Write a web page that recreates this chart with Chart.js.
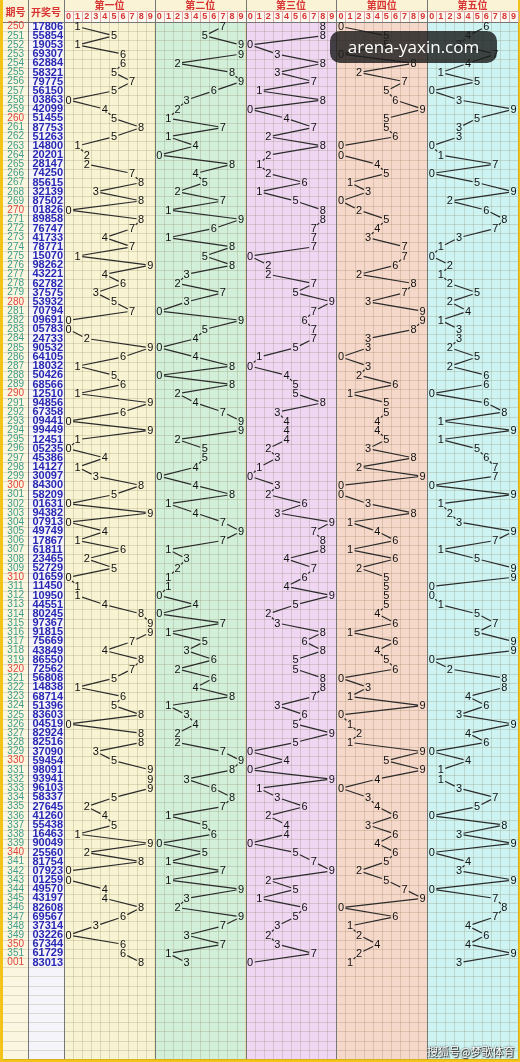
<!DOCTYPE html>
<html>
<head>
<meta charset="utf-8">
<script src="https://cdn.jsdelivr.net/npm/chart.js@4.4.1/dist/chart.umd.min.js"></script>
<style>
  html, body { margin: 0; padding: 0; background: #f2c419; }
  #wrap { position: relative; width: 520px; height: 1062px; }
  #mark {
    position: absolute; left: 330px; top: 31px; width: 167px; height: 32px;
    border-radius: 10px; background: rgba(28, 28, 28, 0.82); color: #fff;
    font: 17px "Open Sans", "DejaVu Sans", sans-serif; line-height: 32px; text-align: center;
  }
  #src {
    position: absolute; left: 427px; top: 1043px; color: #fff;
    font: 11px "Noto Sans CJK SC", sans-serif;
    text-shadow: 0 0 2px #222, 1px 1px 1px #222;
  }
</style>
</head>
<body>
<div id="wrap">
  <canvas id="trend"></canvas>
  <div id="mark">arena-yaxin.com</div>
  <div id="src">搜狐号@梦歌体育</div>
</div>
<script>
// issue numbers (期号) and draw results (开奖号)
const issues = [
  '250','251','252','253','254','255','256','257','258','259',
  '260','261','262','263','264','265','266','267','268','269',
  '270','271','272','273','274','275','276','277','278','279',
  '280','281','282','283','284','285','286','287','288','289',
  '290','291','292','293','294','295','296','297','298','299',
  '300','301','302','303','304','305','306','307','308','309',
  '310','311','312','313','314','315','316','317','318','319',
  '320','321','322','323','324','325','326','327','328','329',
  '330','331','332','333','334','335','336','337','338','339',
  '340','341','342','343','344','345','346','347','348','349',
  '350','351','001'
];
const draws = [
  '17806','55854','19053','69307','62884','58321','79775','56150','03863','42099',
  '51455','87753','51263','14800','20201','28147','74250','85615','32139','87502',
  '01826','89858','76747','41733','78771','15070','98262','43221','62782','37575',
  '53932','70794','09691','05783','24733','90532','64105','18032','50426','68566',
  '12510','94856','67358','09441','99449','12451','05235','45386','14127','30097',
  '84300','58209','01631','94382','07913','49749','17867','61811','23465','52729',
  '01659','11450','10950','44551','80245','97367','91815','75669','43849','86550',
  '72562','56808','14838','68714','51396','83603','04519','82924','82516','37090',
  '59454','98091','93941','96103','58337','27645','41260','55438','16463','90049',
  '25560','81754','07923','01259','49570','43197','82608','69567','37314','03226',
  '67344','61729','83013'
];
const digitLabels = ['0','1','2','3','4','5','6','7','8','9'];
const panelTitles = ['第一位','第二位','第三位','第四位','第五位'];
const cornerTitles = ['期号','开奖号'];

// layout / style
const blankRows = 10;
const totalRows = issues.length + blankRows;
const panelColors = ['#f7f3d3', '#d2efda', '#efd7f3', '#f6d8ca', '#cef3f3'];
const red = '#d83434';

const trendPlugin = {
  id: 'trend',
  beforeDraw(chart) {
    const { ctx, chartArea: a, scales } = chart;
    const x = scales.x, y = scales.y, yi = scales.yIssue;
    const cell = (k) => x.getPixelForValue(k - 0.5);
    const rowEdge = (r) => y.getPixelForValue(r - 0.5);
    ctx.save();
    // header
    ctx.fillStyle = '#fbf3d5';
    ctx.fillRect(yi.left, 0, a.right - yi.left, a.top);
    ctx.fillStyle = '#fdf9ef';
    ctx.fillRect(a.left, x.top, a.right - a.left, x.bottom - x.top);
    // left columns
    ctx.fillStyle = '#fbf6df';
    ctx.fillRect(yi.left, a.top, yi.right - yi.left, a.bottom - a.top);
    ctx.fillStyle = '#f6f4fb';
    ctx.fillRect(y.left, a.top, y.right - y.left, a.bottom - a.top);
    // panels
    panelColors.forEach((c, p) => {
      const x0 = cell(p * 10), x1 = cell(p * 10 + 10);
      ctx.fillStyle = c;
      ctx.fillRect(x0, a.top, x1 - x0, a.bottom - a.top);
    });
    // grid
    ctx.lineWidth = 1;
    ctx.strokeStyle = 'rgba(110, 95, 50, 0.19)';
    ctx.beginPath();
    for (let k = 0; k <= 50; k++) {
      const px = Math.round(cell(k)) + 0.5;
      ctx.moveTo(px, a.top); ctx.lineTo(px, a.bottom);
    }
    for (let r = 0; r <= totalRows; r++) {
      const py = Math.round(rowEdge(r)) + 0.5;
      ctx.moveTo(yi.left, py); ctx.lineTo(a.right, py);
    }
    ctx.stroke();
    // header digit boxes
    ctx.strokeStyle = '#dba7a7';
    ctx.beginPath();
    for (let k = 0; k <= 50; k++) {
      const px = Math.round(cell(k)) + 0.5;
      ctx.moveTo(px, x.top); ctx.lineTo(px, x.bottom);
    }
    ctx.moveTo(a.left, Math.round(x.top) + 0.5); ctx.lineTo(a.right, Math.round(x.top) + 0.5);
    ctx.stroke();
    // dark separators
    ctx.strokeStyle = '#777';
    ctx.beginPath();
    const seps = [yi.right, y.right];
    for (let p = 1; p < 5; p++) seps.push(cell(p * 10));
    seps.forEach((s) => {
      const px = Math.round(s) + 0.5;
      ctx.moveTo(px, 0); ctx.lineTo(px, a.bottom);
    });
    ctx.moveTo(yi.left, Math.round(a.top) + 0.5); ctx.lineTo(a.right, Math.round(a.top) + 0.5);
    ctx.stroke();
    // corner titles
    ctx.fillStyle = red;
    ctx.font = 'bold 10px "Noto Sans CJK SC"';
    ctx.textAlign = 'center';
    ctx.textBaseline = 'middle';
    ctx.fillText(cornerTitles[0], (yi.left + yi.right) / 2, a.top / 2 + 1);
    ctx.fillText(cornerTitles[1], (y.left + y.right) / 2, a.top / 2 + 1);
    ctx.restore();
  },
  afterDatasetsDraw(chart) {
    const ctx = chart.ctx;
    const rx = 4.6, ry = 5.8;
    ctx.save();
    chart.data.datasets.forEach((ds, di) => {
      const pts = chart.getDatasetMeta(di).data;
      ctx.strokeStyle = '#2a2a2a';
      ctx.lineWidth = 1.2;
      ctx.beginPath();
      for (let i = 1; i < pts.length; i++) {
        const p0 = pts[i - 1], p1 = pts[i];
        const dx = p1.x - p0.x, dy = p1.y - p0.y;
        const len = Math.hypot(dx, dy);
        const ux = dx / len, uy = dy / len;
        const g = 1 / Math.sqrt((ux / rx) ** 2 + (uy / ry) ** 2);
        if (len <= 2 * g + 1) continue;
        ctx.moveTo(p0.x + ux * g, p0.y + uy * g);
        ctx.lineTo(p1.x - ux * g, p1.y - uy * g);
      }
      ctx.stroke();
      ctx.fillStyle = '#111';
      ctx.font = '11px "Liberation Sans"';
      ctx.textAlign = 'center';
      ctx.textBaseline = 'middle';
      pts.forEach((pt, i) => ctx.fillText(draws[i][di], pt.x, pt.y + 0.5));
    });
    ctx.restore();
  }
};

const datasets = panelTitles.map((title, p) => ({
  label: title,
  data: draws.map((d, i) => ({ x: p * 10 + Number(d[p]), y: i })),
  xAxisID: 'x',
  yAxisID: 'y',
  showLine: false,
  pointRadius: 0,
  pointHoverRadius: 0
}));

const rowTicks = (axis) => { axis.ticks = Array.from({ length: totalRows }, (_, i) => ({ value: i })); };
const fitRows = (w) => (axis) => { axis.width = w; axis.paddingTop = 0; axis.paddingBottom = 0; };
const fitHeader = (axis) => { axis.height = 11; axis.paddingLeft = 0; axis.paddingRight = 0; };

new Chart(document.getElementById('trend'), {
  type: 'line',
  data: { datasets },
  plugins: [trendPlugin],
  options: {
    responsive: true,
    maintainAspectRatio: false,
    animation: false,
    events: [],
    layout: { padding: { left: 3, right: 2, top: 0, bottom: 3 } },
    plugins: { legend: { display: false }, tooltip: { enabled: false } },
    scales: {
      x: {
        type: 'linear',
        position: 'top',
        weight: 1,
        min: -0.5,
        max: 49.5,
        afterBuildTicks: (axis) => { axis.ticks = Array.from({ length: 50 }, (_, i) => ({ value: i })); },
        afterFit: fitHeader,
        grid: { display: false, drawTicks: false },
        border: { display: false },
        ticks: {
          autoSkip: false, maxRotation: 0, minRotation: 0, padding: 0,
          color: red, font: { family: 'Liberation Sans', size: 9, weight: 'bold' },
          callback: (v) => digitLabels[v % 10]
        }
      },
      xTitle: {
        type: 'category',
        labels: panelTitles,
        position: 'top',
        weight: 2,
        offset: true,
        afterFit: fitHeader,
        grid: { display: false, drawTicks: false },
        border: { display: false },
        ticks: {
          autoSkip: false, maxRotation: 0, minRotation: 0, padding: 0,
          color: red, font: { family: 'Noto Sans CJK SC', size: 10, weight: 'bold' }
        }
      },
      y: {
        type: 'linear',
        position: 'left',
        weight: 1,
        reverse: true,
        min: -0.5,
        max: totalRows - 0.5,
        afterBuildTicks: rowTicks,
        afterFit: fitRows(36),
        grid: { display: false, drawTicks: false },
        border: { display: false },
        ticks: {
          autoSkip: false, crossAlign: 'center', padding: 1,
          color: '#2727b3', font: { family: 'Liberation Sans', size: 11, weight: 'bold' },
          callback: (v) => draws[v] || ''
        }
      },
      yIssue: {
        type: 'linear',
        position: 'left',
        weight: 2,
        reverse: true,
        min: -0.5,
        max: totalRows - 0.5,
        afterBuildTicks: rowTicks,
        afterFit: fitRows(25),
        grid: { display: false, drawTicks: false },
        border: { display: false },
        ticks: {
          autoSkip: false, crossAlign: 'center', padding: 4,
          color: (c) => {
            const s = issues[c.tick.value] || '';
            return (s.endsWith('0') || s === '001') ? '#e0463f' : '#3f9c8c';
          },
          font: { family: 'Liberation Sans', size: 10 },
          callback: (v) => issues[v] || ''
        }
      }
    }
  }
});
</script>
</body>
</html>
